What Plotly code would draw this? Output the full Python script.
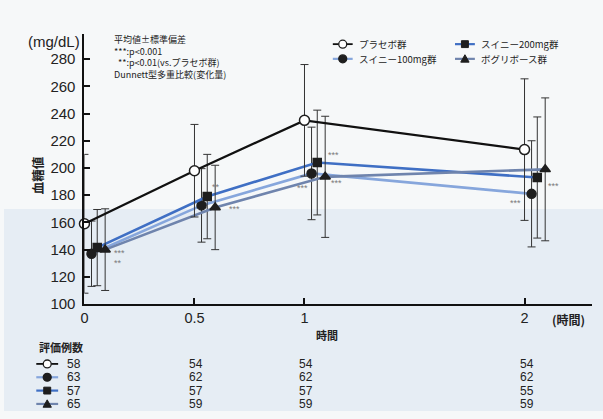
import plotly.graph_objects as go

# ---------------- data ----------------
times = [0, 0.5, 1, 2]
x_tick_vals = [0, 0.5, 1, 2]
x_tick_text = ["0", "0.5", "1", "2"]
y_tick_vals = [100, 120, 140, 160, 180, 200, 220, 240, 260, 280]

group_names = ["プラセボ群", "スイニー100mg群", "スイニー200mg群", "ボグリボース群"]
placebo_mean = [159, 198, 235, 213.5]
placebo_sd = [51, 34, 41, 52]
sui100_mean = [137, 172.5, 196, 181]
sui100_sd = [24, 27, 34, 39]
sui200_mean = [141.5, 179, 204, 193]
sui200_sd = [28, 31, 38.5, 44.5]
vog_mean = [140, 171, 193.5, 199]
vog_sd = [30, 31, 44.5, 52.5]

n_placebo = [58, 54, 54, 54]
n_sui100 = [63, 62, 62, 62]
n_sui200 = [57, 57, 57, 55]
n_vog = [65, 59, 59, 59]

# significance marks: series index, time index, label
sig_series = [3, 3, 2, 3, 2, 1, 3, 1, 3]
sig_time = [0, 0, 1, 1, 2, 2, 2, 3, 3]
sig_text = ["***", "**", "**", "***", "***", "***", "***", "***", "***"]

notes_lines = ["平均値±標準偏差", "***:p<0.001", "\u00a0\u00a0**:p<0.01(vs.プラセボ群)",
               "Dunnett型多重比較(変化量)"]

means = [placebo_mean, sui100_mean, sui200_mean, vog_mean]
sds = [placebo_sd, sui100_sd, sui200_sd, vog_sd]
counts = [n_placebo, n_sui100, n_sui200, n_vog]

# ---------------- styles ----------------
W, H = 603, 419
PL, PR, PT, PB = 81, 592, 35, 310
X_MAX = 2.307
Y_MIN, Y_MAX = 100, 298.2


def fx(p):
    return p / W


def fy(p):
    return 1 - p / H


JP = "Noto Sans CJK JP"
NUM = "Liberation Sans, Arial, sans-serif"
TXT = "#222222"

dodge = [0, 0.032, 0.058, 0.094]
colors = ["#111111", "#86a6dc", "#3f6fc4", "#6f84ad"]
symbols = ["circle", "circle", "square", "triangle-up"]
marker_fill = ["white", "#1e1e1e", "#1e1e1e", "#1e1e1e"]
marker_size = [10, 9, 8, 9]
line_w = [2.3, 2.6, 2.6, 2.6]
sig_style = [(7, -3, "left"), (7, -13.5, "left"), (3, 10, "left"), (12, -2, "left"),
             (9, 8, "left"), (-2, -15, "right"), (4, -6, "left"), (-9, -9, "right"),
             (1, -17, "left")]

fig = go.Figure()

for i in [1, 2, 3, 0]:
    fig.add_trace(go.Scatter(
        x=[t + dodge[i] for t in times],
        y=means[i],
        name=group_names[i],
        mode="lines+markers",
        line=dict(color=colors[i], width=line_w[i]),
        marker=dict(symbol=symbols[i], size=marker_size[i], color=marker_fill[i],
                    line=dict(color="#1e1e1e", width=1.5)),
        error_y=dict(type="data", array=sds[i], visible=True, color="#333333",
                     thickness=1, width=4),
        cliponaxis=False,
        showlegend=False,
    ))

annotations = []
shapes = []

# background tint band (scan look)
shapes.append(dict(type="rect", xref="paper", yref="paper", x0=0, x1=1,
                   y0=0, y1=fy(213), fillcolor="#e6edf4", line=dict(width=0),
                   layer="below"))

# significance marks
for k in range(len(sig_text)):
    s, t = sig_series[k], sig_time[k]
    xs, ys, anc = sig_style[k]
    annotations.append(dict(
        x=times[t] + dodge[s], y=means[s][t], xref="x", yref="y",
        text=sig_text[k], showarrow=False, xanchor=anc, yanchor="middle",
        xshift=xs, yshift=ys, font=dict(family=NUM, size=9, color="#7a7a7a")))


def icon(cx, cy, i, half=10):
    out = [dict(type="line", xref="paper", yref="paper",
                x0=fx(cx - half), x1=fx(cx + half), y0=fy(cy), y1=fy(cy),
                line=dict(color=colors[i], width=2.2 if i else 1.8))]
    if symbols[i] == "circle":
        r = 4
        out.append(dict(type="circle", xref="paper", yref="paper",
                        x0=fx(cx - r), x1=fx(cx + r), y0=fy(cy + r), y1=fy(cy - r),
                        fillcolor=marker_fill[i], line=dict(color="#1e1e1e", width=1.3)))
    elif symbols[i] == "square":
        r = 3.5
        out.append(dict(type="rect", xref="paper", yref="paper",
                        x0=fx(cx - r), x1=fx(cx + r), y0=fy(cy + r), y1=fy(cy - r),
                        fillcolor="#1e1e1e", line=dict(color="#1e1e1e", width=1)))
    else:
        r = 4.2
        path = "M {},{} L {},{} L {},{} Z".format(
            fx(cx - r), fy(cy + r * 0.8), fx(cx + r), fy(cy + r * 0.8), fx(cx), fy(cy - r))
        out.append(dict(type="path", xref="paper", yref="paper", path=path,
                        fillcolor="#1e1e1e", line=dict(color="#1e1e1e", width=1)))
    return out


# top legend (2 x 2)
legend_pos = {0: (341, 45), 2: (464, 45), 1: (341, 60), 3: (464, 60)}
for i, (cx, cy) in legend_pos.items():
    shapes += icon(cx, cy, i)
    annotations.append(dict(x=fx(cx + 14), y=fy(cy), xref="paper", yref="paper",
                            text=group_names[i], showarrow=False, xanchor="left",
                            yanchor="middle", font=dict(family=JP, size=9.5, color=TXT)))

# notes (one block)
annotations.append(dict(x=fx(109), y=fy(58), xref="paper", yref="paper",
                        text="<br>".join(notes_lines), showarrow=False, xanchor="left",
                        yanchor="middle", align="left",
                        font=dict(family=JP, size=9, color=TXT)))

# unit, axis titles
annotations.append(dict(x=fx(50), y=fy(42), xref="paper", yref="paper", text="(mg/dL)",
                        showarrow=False, xanchor="center", yanchor="middle",
                        font=dict(family=NUM, size=15, color=TXT)))
annotations.append(dict(x=fx(34), y=fy(179), xref="paper", yref="paper", text="<b>血糖値</b>",
                        showarrow=False, textangle=-90, xanchor="center", yanchor="middle",
                        font=dict(family=JP, size=12.5, color=TXT)))
annotations.append(dict(x=fx(325), y=fy(342), xref="paper", yref="paper", text="<b>時間</b>",
                        showarrow=False, xanchor="center", yanchor="middle",
                        font=dict(family=JP, size=11, color=TXT)))
annotations.append(dict(x=fx(568), y=fy(326), xref="paper", yref="paper", text="<b>(時間)</b>",
                        showarrow=False, xanchor="center", yanchor="middle",
                        font=dict(family=JP, size=12, color=TXT)))

# table of N
annotations.append(dict(x=fx(33), y=fy(354), xref="paper", yref="paper", text="<b>評価例数</b>",
                        showarrow=False, xanchor="left", yanchor="middle",
                        font=dict(family=JP, size=11, color=TXT)))
row_y = [371, 384.6, 398.2, 411.8]
for i in range(4):
    shapes += icon(43.5, row_y[i], i, half=11)
    for j, t in enumerate(times):
        annotations.append(dict(
            x=t, y=fy(row_y[i]), xref="x", yref="paper", text=str(counts[i][j]),
            showarrow=False, xanchor="right" if j == 0 else "center", yanchor="middle",
            xshift=-2 if j == 0 else 2, borderpad=0,
            font=dict(family=NUM, size=12, color=TXT)))

fig.update_layout(
    width=W, height=H,
    margin=dict(l=0, r=0, t=0, b=0),
    paper_bgcolor="#f6f8f9",
    plot_bgcolor="rgba(0,0,0,0)",
    showlegend=False,
    xaxis=dict(domain=[fx(PL), fx(PR)], range=[0, X_MAX], tickvals=x_tick_vals,
               ticktext=x_tick_text, ticks="inside", ticklen=6, tickwidth=1.5,
               tickcolor="#111", showline=True, linecolor="#111", linewidth=2,
               showgrid=False, zeroline=False,
               tickfont=dict(family=NUM, size=14.5, color=TXT)),
    yaxis=dict(domain=[fy(PB), fy(PT)], range=[Y_MIN, Y_MAX], tickvals=y_tick_vals,
               ticks="inside", ticklen=6, tickwidth=1.5, tickcolor="#111",
               showline=True, linecolor="#111", linewidth=2, showgrid=False,
               zeroline=False, ticklabelstandoff=4,
               tickfont=dict(family=NUM, size=15, color=TXT)),
    annotations=annotations,
    shapes=shapes,
)

fig.write_html("out.html")
